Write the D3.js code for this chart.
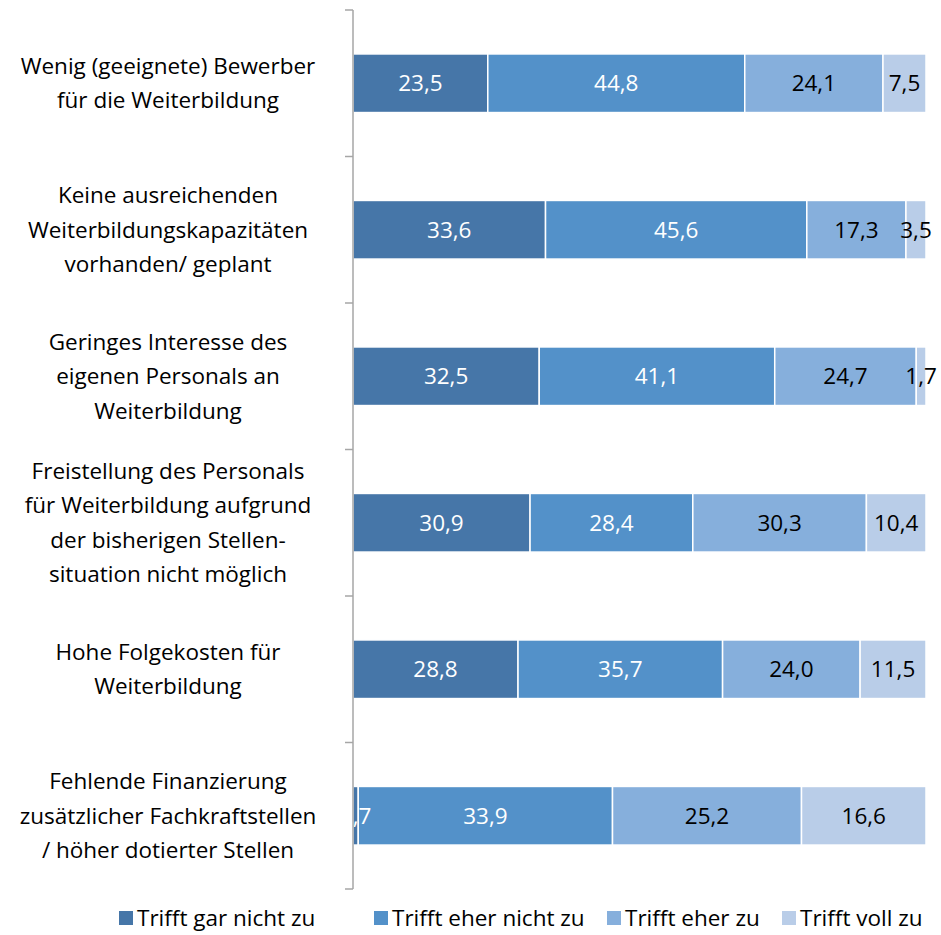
<!DOCTYPE html>
<html>
<head>
<meta charset="utf-8">
<script src="https://cdn.jsdelivr.net/npm/d3@7"></script>
<style>
  body { margin: 0; background: #fff; }
  text { font-family: "Open Sans", "DejaVu Sans", sans-serif; }
</style>
</head>
<body>
<svg id="chart" width="941" height="935"></svg>
<script>
// categories (line breaks as in the original)
var categories = [
  "Wenig (geeignete) Bewerber|für die Weiterbildung",
  "Keine ausreichenden|Weiterbildungskapazitäten|vorhanden/ geplant",
  "Geringes Interesse des|eigenen Personals an|Weiterbildung",
  "Freistellung des Personals|für Weiterbildung aufgrund|der bisherigen Stellen-|situation nicht möglich",
  "Hohe Folgekosten für|Weiterbildung",
  "Fehlende Finanzierung|zusätzlicher Fachkraftstellen|/ höher dotierter Stellen"
];
var seriesNames = ["Trifft gar nicht zu", "Trifft eher nicht zu", "Trifft eher zu", "Trifft voll zu"];
var garNicht  = [23.5, 33.6, 32.5, 30.9, 28.8, 0.7];
var eherNicht = [44.8, 45.6, 41.1, 28.4, 35.7, 33.9];
var eherZu    = [24.1, 17.3, 24.7, 30.3, 24.0, 25.2];
var vollZu    = [7.5, 3.5, 1.7, 10.4, 11.5, 16.6];
var colors = ["#4676a8", "#5391c9", "#86afdc", "#b9cde8"];
var labelColors = ["#fff", "#fff", "#000", "#000"];

var rows = categories.map(function(c, i) {
  return { cat: c, s0: garNicht[i], s1: eherNicht[i], s2: eherZu[i], s3: vollZu[i] };
});
var keys = ["s0", "s1", "s2", "s3"];
// 100% stacked: each bar fills the full width
var stack = d3.stack().keys(keys).offset(d3.stackOffsetExpand);
var layers = stack(rows);

var svg = d3.select("#chart");
var mLeft = 353, mRight = 926, mTop = 10, mBottom = 889;
var fs = 22.5;

var x = d3.scaleLinear().domain([0, 1]).range([mLeft, mRight]);
var y = d3.scaleBand().domain(categories).range([mTop, mBottom]).paddingInner(0.6).paddingOuter(0.3);
var yBand = d3.scaleBand().domain(categories).range([mTop, mBottom]);

svg.append("clipPath").attr("id", "plotclip")
  .append("rect").attr("x", mLeft).attr("y", mTop).attr("width", mRight - mLeft + 20).attr("height", mBottom - mTop);

// bars
var g = svg.append("g").attr("clip-path", "url(#plotclip)");
layers.forEach(function(layer, li) {
  g.selectAll(".seg" + li)
    .data(layer)
    .enter().append("rect")
    .attr("x", function(d) { return x(d[0]); })
    .attr("y", function(d) { return y(d.data.cat); })
    .attr("width", function(d) { return x(d[1]) - x(d[0]); })
    .attr("height", y.bandwidth())
    .attr("fill", colors[li])
    .attr("stroke", "#fff")
    .attr("stroke-width", 1.5);
});

// value labels
layers.forEach(function(layer, li) {
  g.selectAll(".lab" + li)
    .data(layer)
    .enter().append("text")
    .attr("x", function(d) { return (x(d[0]) + x(d[1])) / 2; })
    .attr("y", function(d) { return y(d.data.cat) + y.bandwidth() / 2; })
    .attr("dy", "0.35em")
    .attr("text-anchor", "middle")
    .attr("font-size", fs)
    .attr("fill", labelColors[li])
    .text(function(d) { return d.data[keys[li]].toFixed(1).replace(".", ","); });
});

// axis line + ticks
var axis = svg.append("g");
axis.append("line")
  .attr("x1", mLeft).attr("x2", mLeft).attr("y1", mTop).attr("y2", mBottom)
  .attr("stroke", "#a6a6a6").attr("stroke-width", 1.5);
var tickYs = categories.map(function(c) { return yBand(c); }).concat([mBottom]);
axis.selectAll(".tick").data(tickYs).enter().append("line")
  .attr("x1", mLeft - 8).attr("x2", mLeft)
  .attr("y1", function(d) { return d; }).attr("y2", function(d) { return d; })
  .attr("stroke", "#a6a6a6").attr("stroke-width", 1.5);

// category labels
var lh = 34.5;
categories.forEach(function(c) {
  var lines = c.split("|");
  var cy = yBand(c) + yBand.bandwidth() / 2;
  var t = svg.append("text")
    .attr("text-anchor", "middle")
    .attr("font-size", fs)
    .attr("fill", "#000");
  lines.forEach(function(l, i) {
    t.append("tspan")
      .attr("x", 168)
      .attr("y", cy + (i - (lines.length - 1) / 2) * lh)
      .attr("dy", "0.35em")
      .text(l);
  });
});

// legend
var legX = [119, 374, 607, 782];
var leg = svg.append("g");
seriesNames.forEach(function(n, i) {
  leg.append("rect").attr("x", legX[i]).attr("y", 911).attr("width", 14).attr("height", 14).attr("fill", colors[i]);
  leg.append("text").attr("x", legX[i] + 18).attr("y", 918).attr("dy", "0.35em")
    .attr("font-size", fs).text(n);
});
</script>
</body>
</html>
